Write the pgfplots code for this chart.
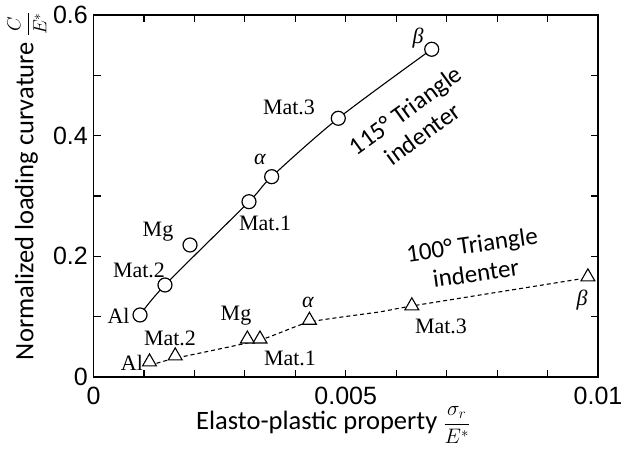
\RequirePackage{fix-cm}
\documentclass[border=0pt]{standalone}
\usepackage{fontspec}
\setmainfont{Liberation Serif}
\newfontfamily\arialf{Liberation Sans}
\newfontfamily\calib{Carlito}
\usepackage{pgfplots}
\pgfplotsset{compat=1.18}
\newcommand\lab{\fontsize{22}{26}\selectfont}
\begin{document}
\begin{tikzpicture}
\begin{axis}[
 at={(0,0)}, anchor=south west,
 scale only axis, width=504.5pt, height=362pt,
 xmin=0, xmax=0.01, ymin=0, ymax=0.6,
 axis line style={line width=1.6pt},
 tick align=inside,
 xtick={0,0.005,0.01}, xticklabels={0,0.005,0.01},
 minor xtick={0.001,0.002,0.003,0.004,0.006,0.007,0.008,0.009},
 ytick={0,0.2,0.4,0.6}, yticklabels={0,0.2,0.4,0.6},
 minor ytick={0.1,0.3,0.5},
 major tick length=7pt, minor tick length=7pt,
 tick style={line width=1.2pt, black},
 scaled x ticks=false, scaled y ticks=false,
 tick label style={font=\arialf\fontsize{25}{30}\selectfont, inner sep=0pt},
 xticklabel style={yshift=-9.5pt},
 yticklabel style={xshift=-5.5pt},
 xlabel={Elasto-plastic property {\fontsize{21}{25}\selectfont\(\displaystyle\frac{\sigma_r}{E^*}\)}},
 ylabel={Normalized loading curvature {\fontsize{19}{23}\selectfont\(\displaystyle\frac{C}{E^*}\)}},
 label style={font=\calib\fontsize{26.5}{30}\selectfont},
 xlabel style={at={(axis description cs:0.475,-0.1326)}, anchor=center},
 ylabel style={at={(axis description cs:-0.132,0.528)}, anchor=center},
 clip=false,
]
% 115 deg triangle indenter: fitted curve
\addplot[line width=1.1pt, smooth, tension=0.5] coordinates {
 (0.000922,0.1028) (0.001417,0.1525) (0.003082,0.2906)
 (0.003532,0.3320) (0.004852,0.4288) (0.006704,0.5432)
};
\addplot[only marks, mark=*, mark size=7pt,
  mark options={fill=white, draw=black, line width=1.2pt}] coordinates {
 (0.000922,0.1028) (0.001417,0.1525) (0.001913,0.2188) (0.003082,0.2906)
 (0.003532,0.3320) (0.004852,0.4288) (0.006704,0.5432)
};
% 100 deg triangle indenter: dashed curve
\addplot[line width=1.1pt, dash pattern=on 4pt off 3pt, smooth, tension=0.3] coordinates {
 (0.00125,0.0227) (0.00162,0.031) (0.0033,0.0613) (0.00427,0.091)
 (0.00568,0.108) (0.00631,0.1177) (0.00964,0.1624)
};
\addplot[only marks, mark=triangle*, mark size=8pt,
  mark options={fill=white, draw=black, line width=1.1pt}] coordinates {
 (0.00111,0.025) (0.00162,0.035) (0.00305,0.063) (0.0033,0.063)
 (0.00428,0.094) (0.00631,0.118) (0.0098,0.166)
};
% labels circles
\node[font=\lab] at (axis cs:0.000496,0.1011) {Al};
\node[font=\lab] at (axis cs:0.000902,0.1774) {Mat.2};
\node[font=\lab] at (axis cs:0.001279,0.2403) {Mg};
\node[font=\lab] at (axis cs:0.0034,0.2553) {Mat.1};
\node[font=\lab] at (axis cs:0.0033,0.3613) {\itshape α};
\node[font=\lab] at (axis cs:0.003875,0.4476) {Mat.3};
\node[font=\lab] at (axis cs:0.006432,0.5619) {\itshape β};
% labels triangles
\node[font=\lab] at (axis cs:0.000763,0.0232) {Al};
\node[font=\lab] at (axis cs:0.001516,0.0646) {Mat.2};
\node[font=\lab] at (axis cs:0.002825,0.1011) {Mg};
\node[font=\lab] at (axis cs:0.003895,0.0315) {Mat.1};
\node[font=\lab] at (axis cs:0.004252,0.1243) {\itshape α};
\node[font=\lab] at (axis cs:0.006888,0.0845) {Mat.3};
\node[font=\lab] at (axis cs:0.009683,0.1276) {\itshape β};
% annotations
\node[font=\calib\fontsize{25}{29}\selectfont, rotate=36, align=center] at (axis cs:0.00635,0.4227) {115° Triangle\\indenter};
\node[font=\calib\fontsize{25}{29}\selectfont, rotate=8, align=center] at (axis cs:0.00754,0.196) {100° Triangle\\indenter};
\end{axis}
\pgfresetboundingbox
\useasboundingbox (-93.5pt,-72pt) rectangle (530.5pt,377pt);
\end{tikzpicture}
\end{document}
